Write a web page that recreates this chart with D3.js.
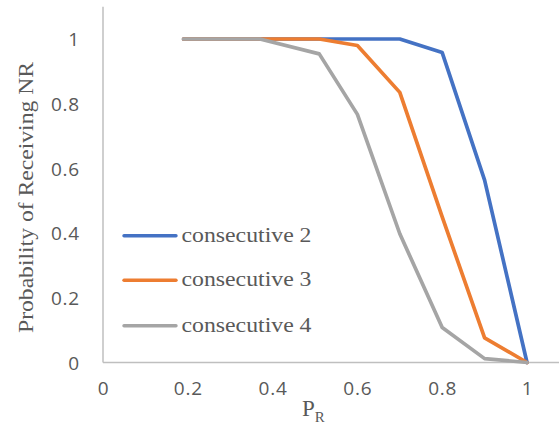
<!DOCTYPE html>
<html><head><meta charset="utf-8">
<script src="https://cdn.jsdelivr.net/npm/d3@7"></script>
<style>html,body{margin:0;padding:0;background:#fff;}svg{display:block;}</style>
</head><body>
<svg id="chart" width="559" height="424"></svg>
<script>
const pR = [0.19, 0.37, 0.51, 0.6, 0.7, 0.8, 0.9, 1.0];
const consecutive2 = [1, 1, 1, 1, 1, 0.958, 0.564, 0];
const consecutive3 = [1, 1, 1, 0.98, 0.835, 0.45, 0.076, 0];
const consecutive4 = [1, 1, 0.954, 0.767, 0.398, 0.108, 0.012, 0];
const seriesNames = ["consecutive 2", "consecutive 3", "consecutive 4"];
const seriesColors = ["#4472C4", "#ED7D31", "#A5A5A5"];
const xTicks = [0, 0.2, 0.4, 0.6, 0.8, 1];
const yTicks = [0, 0.2, 0.4, 0.6, 0.8, 1];

const svg = d3.select("#chart");
const x = d3.scaleLinear().domain([0, 1]).range([103, 527]);
const y = d3.scaleLinear().domain([0, 1.1]).range([362.5, 6.65]);

// axes lines
svg.append("line").attr("x1", 103).attr("x2", 559).attr("y1", y(0)).attr("y2", y(0))
  .attr("stroke", "#BFBFBF").attr("stroke-width", 1.5);
svg.append("line").attr("x1", x(0)).attr("x2", x(0)).attr("y1", y(0)).attr("y2", y(1.1))
  .attr("stroke", "#BFBFBF").attr("stroke-width", 1.5);

const tickFont = "'Open Sans', sans-serif";
// y ticks
const yAxis = d3.axisLeft(y).tickValues(yTicks).tickSize(0).tickPadding(23)
  .tickFormat(d => d3.format("")(+d.toFixed(1)));
const gy = svg.append("g").attr("transform", `translate(${x(0)},0)`).call(yAxis);
gy.select(".domain").remove();
gy.selectAll("text").attr("font-family", tickFont).attr("font-size", 19)
  .attr("fill", "#595959").attr("letter-spacing", 0.8).attr("dy", "0.36em");

// x ticks
const xAxis = d3.axisBottom(x).tickValues(xTicks).tickSize(0).tickPadding(20)
  .tickFormat(d => d3.format("")(+d.toFixed(1)));
const gx = svg.append("g").attr("transform", `translate(0,${y(0)})`).call(xAxis);
gx.select(".domain").remove();
gx.selectAll("text").attr("font-family", tickFont).attr("font-size", 19)
  .attr("fill", "#595959").attr("letter-spacing", 0.8).attr("dy", "0.68em");

// lines
const seriesData = [consecutive2, consecutive3, consecutive4];
const line = d3.line().x((d, i) => x(pR[i])).y(d => y(d));
seriesData.forEach((s, k) => {
  svg.append("path").datum(s).attr("d", line).attr("fill", "none")
    .attr("stroke", seriesColors[k]).attr("stroke-width", 3.7)
    .attr("stroke-linejoin", "round").attr("stroke-linecap", "round");
});

// legend
const legendY = [235.7, 280.3, 325.7];
seriesNames.forEach((n, k) => {
  svg.append("line").attr("x1", 124).attr("x2", 176).attr("y1", legendY[k]).attr("y2", legendY[k])
    .attr("stroke", seriesColors[k]).attr("stroke-width", 3.4).attr("stroke-linecap", "round");
  svg.append("text").attr("x", 181.5).attr("y", legendY[k] + 6)
    .attr("font-family", "'Liberation Serif', 'Times New Roman', serif").attr("font-size", 20)
    .attr("fill", "#595959").attr("textLength", 130).attr("lengthAdjust", "spacingAndGlyphs")
    .text(n);
});

// axis titles
svg.append("text").attr("transform", "translate(33,197.5) rotate(-90)")
  .attr("text-anchor", "middle")
  .attr("font-family", "'Liberation Serif', 'Times New Roman', serif").attr("font-size", 20.5)
  .attr("fill", "#595959").attr("textLength", 271).attr("lengthAdjust", "spacingAndGlyphs")
  .text("Probability of Receiving NR");

const xt = svg.append("text").attr("x", 302).attr("y", 416)
  .attr("font-family", "'Liberation Serif', 'Times New Roman', serif").attr("font-size", 23)
  .attr("fill", "#595959");
xt.append("tspan").text("P");
xt.append("tspan").attr("font-size", 15).attr("dy", 6).text("R");
</script>
</body></html>
